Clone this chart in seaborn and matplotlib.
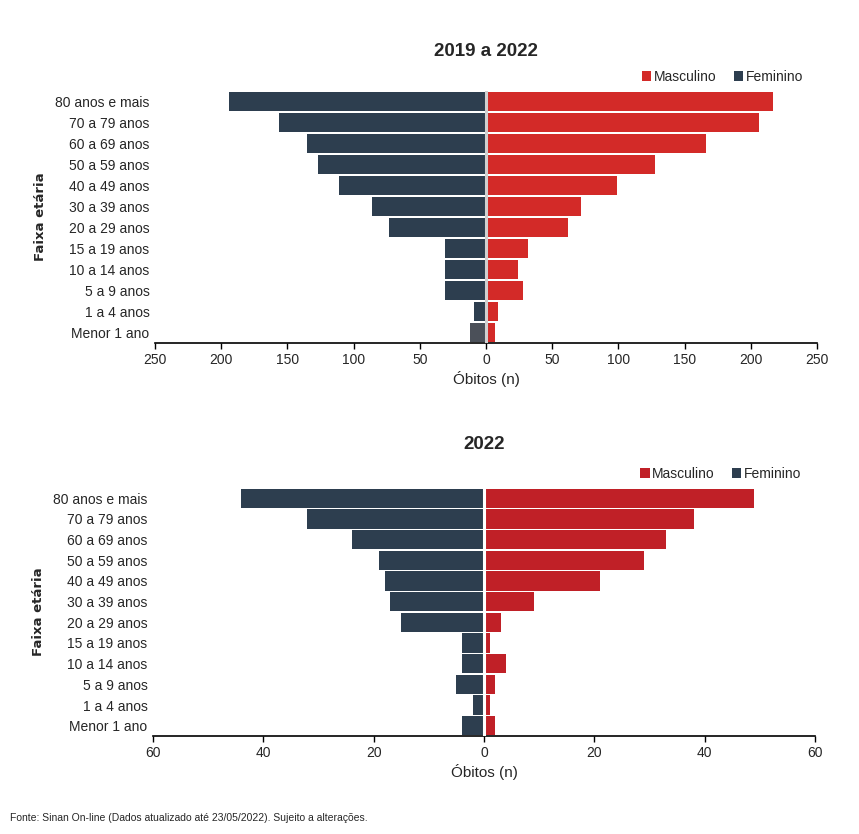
import matplotlib
matplotlib.use("Agg")
import matplotlib.pyplot as plt
import matplotlib.ticker as mticker
import seaborn as sns
import pandas as pd

# Faixas etárias (de cima para baixo)
faixas = ["80 anos e mais", "70 a 79 anos", "60 a 69 anos", "50 a 59 anos",
          "40 a 49 anos", "30 a 39 anos", "20 a 29 anos", "15 a 19 anos",
          "10 a 14 anos", "5 a 9 anos", "1 a 4 anos", "Menor 1 ano"]

# 2019 a 2022
masc_2019_2022 = [217, 206, 166, 128, 99, 72, 62, 32, 24, 28, 9, 7]
fem_2019_2022 = [194, 156, 135, 127, 111, 86, 73, 31, 31, 31, 9, 12]

# 2022
masc_2022 = [49, 38, 33, 29, 21, 9, 3, 1, 4, 2, 1, 2]
fem_2022 = [44, 32, 24, 19, 18, 17, 15, 4, 4, 5, 2, 4]

sns.set_style("white")
plt.rcParams["font.family"] = ["Liberation Sans Narrow", "Liberation Sans", "DejaVu Sans"]


def make_df(masc, fem):
    rows = []
    for f, m, w in zip(faixas, masc, fem):
        rows.append((f, "Masculino", m))
        rows.append((f, "Feminino", -w))
    return pd.DataFrame(rows, columns=["faixa", "sexo", "obitos"])


def piramide(ax, masc, fem, titulo, lim, passo, cor_masc, cor_zero, titulo_pad):
    df = make_df(masc, fem)
    sns.barplot(data=df, x="obitos", y="faixa", hue="sexo", order=faixas,
                hue_order=["Masculino", "Feminino"],
                palette={"Masculino": cor_masc, "Feminino": "#2d3e4f"},
                dodge=False, width=0.93, orient="h", linewidth=0,
                saturation=1, ax=ax)
    ax.axvline(0, color=cor_zero, lw=2.2, zorder=5)
    ax.set_xlim(-lim, lim)
    ax.set_ylim(11.5, -0.5)
    ax.xaxis.set_major_locator(mticker.MultipleLocator(passo))
    ax.xaxis.set_major_formatter(mticker.FuncFormatter(lambda v, p: f"{abs(v):.0f}"))
    for s in ["top", "right", "left"]:
        ax.spines[s].set_visible(False)
    ax.spines["bottom"].set_color("black")
    ax.spines["bottom"].set_linewidth(1.2)
    ax.tick_params(axis="x", bottom=True, direction="out", length=4, width=1,
                   color="black", labelsize=10, pad=3)
    ax.tick_params(axis="y", left=False, length=0, labelsize=10, pad=4)
    ax.set_title(titulo, fontsize=13.5, fontweight="bold", pad=titulo_pad,
                 family=["Liberation Sans", "DejaVu Sans"])
    ax.set_xlabel("Óbitos (n)", fontsize=11, labelpad=3)
    ax.set_ylabel("Faixa etária", fontsize=9.5, fontweight="semibold",
                  family=["DejaVu Sans"], labelpad=6)
    h, l = ax.get_legend_handles_labels()
    ax.legend(h, l, loc="lower right", bbox_to_anchor=(0.99, 1.0), ncol=2,
              frameon=False, handlelength=0.7, handleheight=0.7,
              handletextpad=0.2, columnspacing=1.2, fontsize=10,
              borderaxespad=0.1)


fig = plt.figure(figsize=(8.59, 8.34), dpi=100)
ax1 = fig.add_axes([0.1804, 0.5887, 0.7707, 0.3022])
ax2 = fig.add_axes([0.1781, 0.1175, 0.7707, 0.2974])

piramide(ax1, masc_2019_2022, fem_2019_2022, "2019 a 2022", 250, 50,
         "#d32a28", "#d0d0d0", 25)
piramide(ax2, masc_2022, fem_2022, "2022", 60, 20,
         "#c02027", "white", 28)

# barra "Menor 1 ano" feminina mais clara no primeiro painel
for p in ax1.patches:
    if p.get_width() < 0 and p.get_y() > 10.5:
        p.set_facecolor("#4b5059")

fig.text(0.012, 0.019, "Fonte: Sinan On-line (Dados atualizado até 23/05/2022). Sujeito a alterações.",
         fontsize=7.5, ha="left", va="center")

fig.savefig("out.png", dpi=100)
